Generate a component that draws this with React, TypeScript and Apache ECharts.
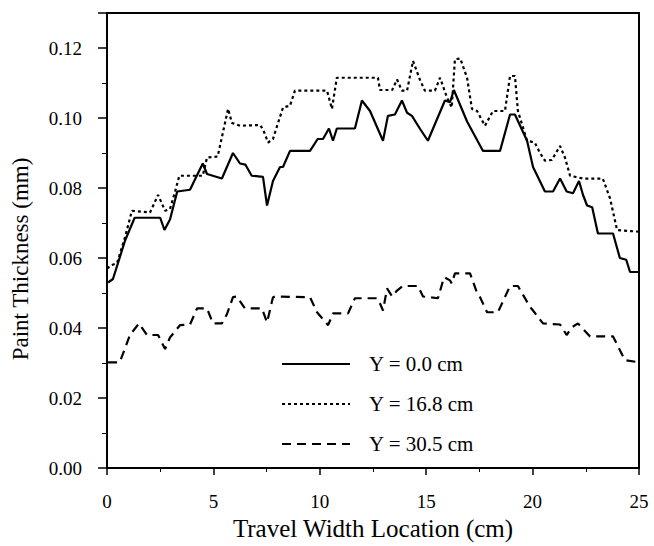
import React, { useEffect, useRef } from "react";
import * as echarts from "echarts";

const seriesNames = ["Y = 0.0 cm", "Y = 16.8 cm", "Y = 30.5 cm"];
const xTicks = [0, 5, 10, 15, 20, 25];
const yTicks = [0, 0.02, 0.04, 0.06, 0.08, 0.1, 0.12];
const xTitle = "Travel Width Location (cm)";
const yTitle = "Paint Thickness (mm)";

const y0Data: [number, number][] = [
  [0.05, 0.053], [0.28, 0.054], [0.85, 0.065], [1.3, 0.0715], [2.5, 0.0715], [2.7, 0.068],
  [2.96, 0.071], [3.3, 0.079], [3.9, 0.0795], [4.5, 0.087], [4.7, 0.084], [5.4, 0.0827],
  [5.92, 0.09], [6.25, 0.087], [6.5, 0.0867], [6.8, 0.0835], [7.33, 0.0832], [7.52, 0.075],
  [7.8, 0.082], [8.13, 0.086], [8.27, 0.086], [8.6, 0.0906], [9.54, 0.0906], [9.9, 0.094],
  [10.15, 0.094], [10.43, 0.097], [10.62, 0.0935], [10.8, 0.097], [11.65, 0.097], [11.98, 0.105],
  [12.36, 0.102], [12.97, 0.0935], [13.2, 0.1006], [13.53, 0.101], [13.86, 0.105], [14.1, 0.1015],
  [14.33, 0.1006], [14.7, 0.097], [15.08, 0.0935], [15.88, 0.105], [16.12, 0.1045], [16.3, 0.108],
  [16.92, 0.099], [17.67, 0.0906], [18.47, 0.0906], [18.94, 0.101], [19.17, 0.101], [19.74, 0.0935],
  [20.02, 0.086], [20.58, 0.079], [20.96, 0.079], [21.29, 0.0827], [21.6, 0.079], [21.9, 0.0785],
  [22.18, 0.082], [22.37, 0.078], [22.56, 0.075], [22.8, 0.0745], [23.07, 0.067], [23.78, 0.067],
  [24.1, 0.06], [24.4, 0.0595], [24.58, 0.056], [25, 0.056],
];

const y168Data: [number, number][] = [
  [0.0, 0.057], [0.23, 0.058], [0.47, 0.0585], [0.85, 0.066], [1.17, 0.0735], [2.02, 0.073],
  [2.4, 0.078], [2.73, 0.0735], [2.96, 0.074], [3.2, 0.079], [3.4, 0.0835], [4.5, 0.0835],
  [4.7, 0.0887], [5.2, 0.089], [5.69, 0.1026], [5.87, 0.0986], [6.25, 0.0978], [7.19, 0.098],
  [7.33, 0.0968], [7.57, 0.093], [7.8, 0.094], [8.27, 0.103], [8.6, 0.1035], [8.83, 0.1078],
  [10.34, 0.1078], [10.57, 0.1026], [10.8, 0.1115], [12.73, 0.1115], [12.83, 0.108], [13.4, 0.108],
  [13.63, 0.111], [13.86, 0.1078], [14.1, 0.1078], [14.38, 0.1163], [14.7, 0.111], [14.94, 0.1078],
  [15.41, 0.1078], [15.65, 0.1115], [15.98, 0.1058], [16.2, 0.103], [16.35, 0.1168], [16.6, 0.117],
  [16.92, 0.1115], [17.15, 0.1026], [17.39, 0.102], [17.76, 0.0978], [18.14, 0.102], [18.7, 0.102],
  [18.94, 0.112], [19.17, 0.112], [19.31, 0.102], [19.74, 0.0935], [20.1, 0.093], [20.35, 0.09],
  [20.58, 0.0878], [20.9, 0.088], [21.29, 0.092], [21.52, 0.0887], [21.76, 0.0835], [22.37, 0.0827],
  [23.3, 0.0827], [23.64, 0.077], [23.97, 0.068], [25, 0.0675],
];

const y305Data: [number, number][] = [
  [0.05, 0.0302], [0.6, 0.0302], [1.08, 0.038], [1.5, 0.0413], [1.88, 0.038], [2.4, 0.038],
  [2.73, 0.034], [2.96, 0.0373], [3.43, 0.0408], [3.9, 0.041], [4.23, 0.0456], [4.7, 0.0456],
  [4.98, 0.0413], [5.4, 0.0413], [5.64, 0.044], [5.92, 0.0488], [6.1, 0.049], [6.48, 0.0456],
  [7.28, 0.0456], [7.52, 0.0416], [7.8, 0.0488], [7.9, 0.049], [9.54, 0.0488], [9.87, 0.0445],
  [10.39, 0.0408], [10.62, 0.0442], [11.33, 0.0442], [11.65, 0.0485], [12.69, 0.0485], [12.83, 0.047],
  [12.97, 0.045], [13.16, 0.0513], [13.4, 0.049], [13.63, 0.0507], [13.9, 0.052], [14.61, 0.052],
  [14.85, 0.049], [15.55, 0.0485], [15.84, 0.0545], [16.12, 0.0536], [16.2, 0.0527], [16.35, 0.0556],
  [17.06, 0.0556], [17.39, 0.05], [17.53, 0.0488], [17.86, 0.0445], [18.37, 0.0445], [18.94, 0.052],
  [19.31, 0.052], [19.88, 0.046], [20.02, 0.045], [20.49, 0.0413], [21.29, 0.041], [21.6, 0.038],
  [21.85, 0.0402], [22.13, 0.0413], [22.7, 0.0376], [23.78, 0.0376], [24.34, 0.0308], [25, 0.0302],
];

const FONT = "Liberation Serif";

export default function App() {
  const ref = useRef<HTMLDivElement>(null);
  useEffect(() => {
    if (!ref.current) return;
    const chart = echarts.init(ref.current, null, { renderer: "svg" });
    const lineCommon = {
      type: "line" as const,
      showSymbol: false,
      symbol: "none",
      smooth: false,
    };
    chart.setOption({
      animation: false,
      backgroundColor: "#fff",
      textStyle: { fontFamily: FONT, color: "#000" },
      grid: {
        left: 107,
        right: 15,
        top: 13,
        bottom: 78,
        show: true,
        borderColor: "#000",
        borderWidth: 2,
      },
      legend: {
        orient: "vertical",
        left: 276,
        top: 347,
        itemWidth: 68,
        itemHeight: 14,
        itemGap: 16,
        itemStyle: { opacity: 0 },
        textStyle: {
          fontFamily: FONT,
          fontSize: 21,
          lineHeight: 24,
          color: "#000",
          padding: [0, 0, 0, 14],
        },
        data: seriesNames,
      },
      graphic: [
        {
          type: "text",
          x: 20,
          y: 259,
          rotation: Math.PI / 2,
          style: {
            text: yTitle,
            fontFamily: FONT,
            fontSize: 23,
            fill: "#000",
            align: "center",
            verticalAlign: "middle",
          },
        },
      ],
      xAxis: {
        type: "value",
        min: 0,
        max: 25,
        interval: 5,
        name: xTitle,
        nameLocation: "middle",
        nameGap: 46,
        nameTextStyle: { fontFamily: FONT, fontSize: 25, color: "#000" },
        axisLine: { show: true, lineStyle: { color: "#000", width: 2 } },
        axisTick: { show: true, length: 7, lineStyle: { color: "#000", width: 1.5 } },
        minorTick: { show: true, splitNumber: 2, length: 4, lineStyle: { color: "#000", width: 1 } },
        splitLine: { show: false },
        axisLabel: {
          fontFamily: FONT,
          fontSize: 19,
          color: "#000",
          margin: 24,
          formatter: (v: number) => (xTicks.includes(v) ? String(v) : ""),
        },
      },
      yAxis: {
        type: "value",
        min: 0,
        max: 0.13,
        interval: 0.02,
        axisLine: { show: true, lineStyle: { color: "#000", width: 2 } },
        axisTick: { show: true, length: 9, lineStyle: { color: "#000", width: 1.5 } },
        minorTick: { show: true, splitNumber: 2, length: 5, lineStyle: { color: "#000", width: 1 } },
        splitLine: { show: false },
        axisLabel: {
          fontFamily: FONT,
          fontSize: 19,
          color: "#000",
          margin: 25,
          showMaxLabel: false,
          formatter: (v: number) =>
            yTicks.some((t) => Math.abs(t - v) < 1e-9) ? v.toFixed(2) : "",
        },
      },
      series: [
        {
          ...lineCommon,
          name: seriesNames[0],
          data: y0Data,
          lineStyle: { color: "#000", width: 2.2, type: "solid" },
          itemStyle: { color: "#000" },
        },
        {
          ...lineCommon,
          name: seriesNames[1],
          data: y168Data,
          lineStyle: { color: "#000", width: 2.2, type: [3, 3] },
          itemStyle: { color: "#000" },
        },
        {
          ...lineCommon,
          name: seriesNames[2],
          data: y305Data,
          lineStyle: { color: "#000", width: 2.2, type: [9, 6] },
          itemStyle: { color: "#000" },
        },
      ],
    });
    return () => chart.dispose();
  }, []);
  return (
    <div
      ref={ref}
      style={{ position: "fixed", left: 0, top: 0, width: 654, height: 546, background: "#fff" }}
    />
  );
}
